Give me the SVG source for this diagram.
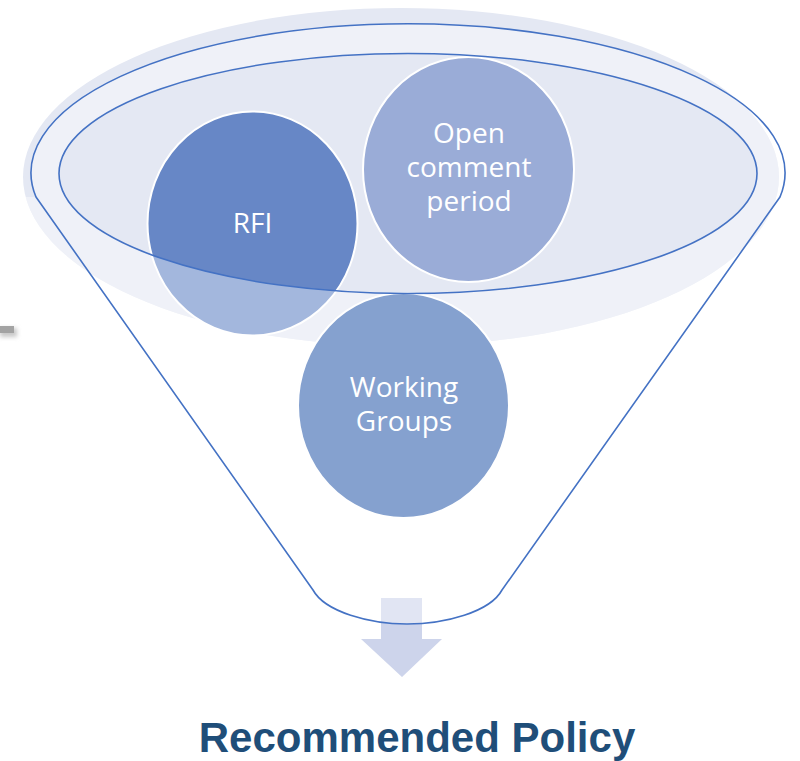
<svg xmlns="http://www.w3.org/2000/svg" width="800" height="761" viewBox="0 0 800 761">
  <defs>
    <style>
      .bubble { stroke: #ffffff; stroke-width: 2; }
      .label { font-family: "Open Sans", "Liberation Sans", sans-serif; font-size: 28px; fill: #ffffff; text-anchor: middle; }
      .rim { fill: none; stroke: #4472C4; stroke-width: 1.6; stroke-linejoin: round; }
      .veil { fill: #ffffff; fill-opacity: 0.4; }
    </style>
    <filter id="soft" x="-50%" y="-50%" width="200%" height="200%">
      <feGaussianBlur stdDeviation="2"/>
    </filter>
    <clipPath id="lipClip">
      <path d="M0,197 L36,197 A377,149 0 1 1 780,197 L800,197 L800,420 L0,420 Z"/>
    </clipPath>
    <clipPath id="veilClip">
      <ellipse cx="401" cy="177" rx="378" ry="169" clip-path="url(#lipClip)"/>
      <ellipse cx="252.5" cy="223.5" rx="106" ry="113"/>
    </clipPath>
  </defs>

  <rect width="800" height="761" fill="#ffffff"/>

  <!-- small grey fragment at left edge -->
  <g id="fragment">
    <rect x="0" y="328" width="17" height="9" fill="#c8c8c8" filter="url(#soft)"/>
    <rect x="0" y="326" width="14" height="7" fill="#a3a3a3"/>
  </g>

  <!-- funnel backdrop -->
  <g id="funnel-back">
    <ellipse cx="401" cy="177" rx="378" ry="169" fill="#E4E8F3"/>
  </g>

  <g id="node-rfi">
    <ellipse class="bubble" cx="252.5" cy="223.5" rx="105" ry="112" fill="#6787C6"/>
    <text class="label" x="252.5" y="233">RFI</text>
  </g>

  <g id="node-open-comment">
    <ellipse class="bubble" cx="468.5" cy="169.5" rx="105.5" ry="112.5" fill="#9AACD7"/>
    <text class="label" x="469" y="143">Open</text>
    <text class="label" x="469" y="177">comment</text>
    <text class="label" x="469" y="211">period</text>
  </g>

  <!-- translucent front lip of the funnel -->
  <g id="funnel-lip">
    <path class="veil" fill-rule="evenodd" clip-path="url(#veilClip)" d="M0,0 H800 V420 H0 Z M59,173.5 A349,120 0 1 1 757,173.5 A349,120 0 1 1 59,173.5 Z"/>
  </g>

  <g id="connectors">
    <path d="M381,598 H422 V639 H442 L402,677 L361,639 H381 Z" fill="#CDD4EB"/>
    <path class="veil" d="M295,565 L520,565 L502,590 C490,612 445,624 407,624 C370,624 325,612 313,590 Z"/>
  </g>

  <g id="node-working-groups">
    <ellipse class="bubble" cx="403.5" cy="405.5" rx="105.5" ry="112.5" fill="#85A1CF"/>
    <text class="label" x="404" y="397">Working</text>
    <text class="label" x="404" y="431">Groups</text>
  </g>

  <g id="funnel-outline">
    <ellipse class="rim" cx="408" cy="173.5" rx="349" ry="120"/>
    <path class="rim" d="M36,197 A377,149 0 1 1 780,197 L502,590 C490,612 445,624 407,624 C370,624 325,612 313,590 Z"/>
  </g>

  <g id="title">
    <text x="417" y="752" font-family="'Liberation Sans', Arial, sans-serif" font-size="42" font-weight="bold" fill="#1F4E79" text-anchor="middle">Recommended Policy</text>
  </g>
</svg>
